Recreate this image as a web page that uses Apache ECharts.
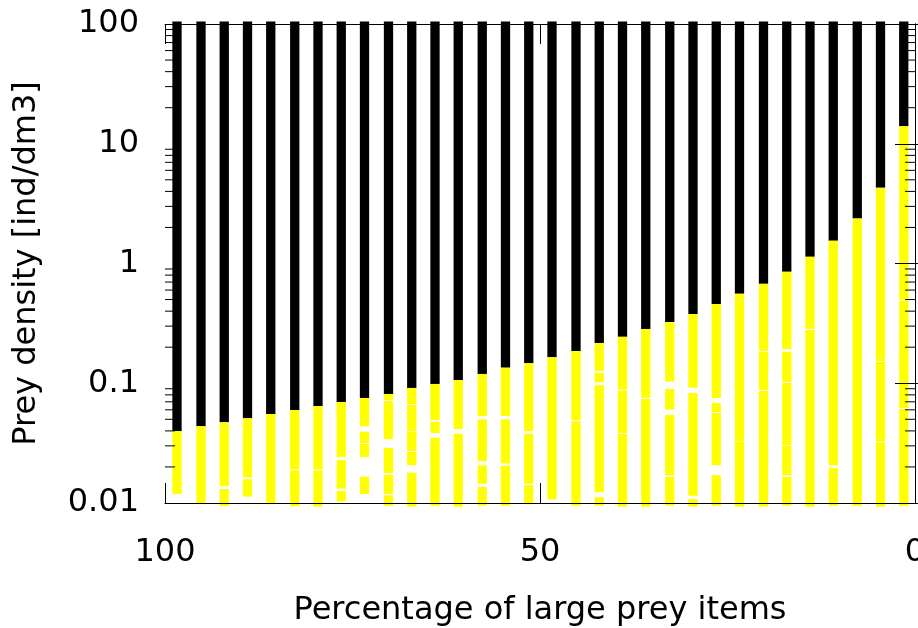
<!DOCTYPE html>
<html>
<head>
<meta charset="utf-8">
<script src="https://cdn.jsdelivr.net/npm/echarts@6/dist/echarts.min.js"></script>
<style>
  html, body { margin: 0; padding: 0; background: #fff; }
  #chart { width: 918px; height: 628px; }
</style>
</head>
<body>
<div id="chart"></div>
<script>
// ---- data ----
// x position (percentage of large prey items) of each bar
const xValues = [98.4, 95.2, 92.1, 89.0, 85.9, 82.7, 79.6, 76.5, 73.4, 70.2,
                 67.1, 64.0, 60.9, 57.7, 54.6, 51.5, 48.4, 45.2, 42.1, 39.0,
                 35.9, 32.7, 29.6, 26.5, 23.4, 20.2, 17.1, 14.0, 10.9, 7.7,
                 4.6, 1.5];
// prey density where the yellow part ends and the black part begins
const thresholds = [0.0399, 0.0437, 0.0472, 0.0510, 0.0554, 0.0598, 0.0646, 0.0698, 0.0754, 0.0814,
                    0.0914, 0.0987, 0.1064, 0.1196, 0.135, 0.147, 0.165, 0.186, 0.217, 0.244,
                    0.284, 0.324, 0.378, 0.460, 0.558, 0.676, 0.853, 1.137, 1.549, 2.38,
                    4.30, 14.0];
// lower end of each yellow bar
const yellowBottom = [0.0119, 0.0100, 0.0094, 0.0113, 0.0100, 0.0094, 0.0093, 0.0103, 0.0119, 0.0095,
                      0.0093, 0.0095, 0.0093, 0.0095, 0.0095, 0.0099, 0.0107, 0.0095, 0.0095, 0.0093,
                      0.0093, 0.0095, 0.0093, 0.0095, 0.0093, 0.0093, 0.0095, 0.0093, 0.0095, 0.0095,
                      0.0093, 0.0095];
// upper end of each black bar
const blackTop = [105, 105, 105, 105, 105, 105, 105, 105, 105, 105,
                  105, 105, 105, 105, 105, 105, 105, 105, 105, 105,
                  105, 105, 105, 105, 105, 105, 105, 105, 105, 105,
                  105, 105];
// white gaps inside the yellow bars: pairs [upper value, lower value]
const yellowGaps = [
  [], [], [[0.0139, 0.0131]], [[0.0164, 0.0158]], [], [[0.0191, 0.0187]], [[0.0191, 0.0187]],
  [[0.0242, 0.0228], [0.0132, 0.0126]],
  [[0.0437, 0.0394], [0.0317, 0.0311], [0.0242, 0.0166]],
  [[0.0725, 0.0711], [0.0342, 0.0288], [0.0178, 0.0172], [0.0119, 0.0116]],
  [[0.0671, 0.0658], [0.0397, 0.0392], [0.0272, 0.0267], [0.0207, 0.0179]],
  [[0.0493, 0.0477], [0.0384, 0.0351]],
  [[0.0415, 0.0379]],
  [[0.0533, 0.0500], [0.0223, 0.0206], [0.0145, 0.0136]],
  [[0.0533, 0.0500], [0.0214, 0.0205]],
  [[0.0399, 0.0379], [0.0145, 0.0141]],
  [],
  [[0.0491, 0.0481]],
  [[0.1267, 0.1220], [0.1019, 0.0964], [0.0123, 0.0112]],
  [[0.0884, 0.0866], [0.0383, 0.0377]],
  [[0.0756, 0.0739]],
  [[0.1031, 0.0896], [0.0602, 0.0543], [0.0170, 0.0165]],
  [[0.0919, 0.0830], [0.0115, 0.0108]],
  [[0.0754, 0.0684], [0.0575, 0.0565], [0.0207, 0.0171]],
  [[0.0327, 0.0323]],
  [[0.1863, 0.1827], [0.0879, 0.0862]],
  [[0.1925, 0.1827], [0.1025, 0.1006], [0.0305, 0.0301], [0.0170, 0.0165]],
  [[0.2844, 0.2790]],
  [[0.0207, 0.0196]],
  [],
  [[0.1537, 0.1507], [0.0327, 0.0321]],
  [[0.497, 0.488], [0.0622, 0.0610]]
];
// axis tick labels
const xTickLabels = ['0', '50', '100'];
const yTickLabels = ['0.01', '0.1', '1', '10', '100'];
const yMinorTicks = [0.02, 0.03, 0.04, 0.05, 0.06, 0.07, 0.08, 0.09,
                     0.2, 0.3, 0.4, 0.5, 0.6, 0.7, 0.8, 0.9,
                     2, 3, 4, 5, 6, 7, 8, 9,
                     20, 30, 40, 50, 60, 70, 80, 90];

// ---- chart ----
const FONT = 'DejaVu Sans';
const BAR_W = 9.3;
const chart = echarts.init(document.getElementById('chart'), null, { renderer: 'canvas' });

const barData = xValues.map((x, i) => [x, thresholds[i], yellowBottom[i], blackTop[i]]);

function renderBar(params, api) {
  const i = params.dataIndex;
  const x = api.value(0), thr = api.value(1), bot = api.value(2), top = api.value(3);
  const pThr = api.coord([x, thr]);
  const cx = pThr[0];
  const yTop = api.coord([x, top])[1];
  const yBot = api.coord([x, bot])[1];
  const children = [{
    type: 'rect',
    shape: { x: cx - BAR_W / 2, y: yTop, width: BAR_W, height: pThr[1] - yTop },
    style: { fill: '#000000' }
  }];
  let upper = pThr[1];
  const gaps = yellowGaps[i] || [];
  gaps.forEach(g => {
    const gTop = api.coord([x, g[0]])[1];
    const gBot = api.coord([x, g[1]])[1];
    if (gTop > upper) {
      children.push({ type: 'rect', shape: { x: cx - BAR_W / 2, y: upper, width: BAR_W, height: gTop - upper }, style: { fill: '#ffff00' } });
    }
    upper = gBot;
  });
  children.push({ type: 'rect', shape: { x: cx - BAR_W / 2, y: upper, width: BAR_W, height: yBot - upper }, style: { fill: '#ffff00' } });
  return { type: 'group', children };
}

function renderMinor(params, api) {
  const v = api.value(0);
  const l = api.coord([100, v]);
  const r = api.coord([0, v]);
  return {
    type: 'group',
    children: [
      { type: 'line', shape: { x1: l[0], y1: l[1], x2: l[0] + 10, y2: l[1] }, style: { stroke: '#000', lineWidth: 1 } },
      { type: 'line', shape: { x1: r[0], y1: r[1], x2: r[0] - 10, y2: r[1] }, style: { stroke: '#000', lineWidth: 1 } }
    ]
  };
}

function yLabel(v) {
  const k = Math.round(Math.log10(v)) + 2;
  return yTickLabels[k] !== undefined ? yTickLabels[k] : '';
}
function xLabel(v) {
  const idx = [0, 50, 100].indexOf(Math.round(v));
  return idx >= 0 ? xTickLabels[idx] : '';
}

const axisLine = { show: true, lineStyle: { color: '#000', width: 1 } };
const tickMajor = { show: true, inside: true, length: 20, lineStyle: { color: '#000', width: 1 } };

chart.setOption({
  animation: false,
  backgroundColor: '#ffffff',
  grid: { left: 165, right: 3, top: 24, bottom: 125, containLabel: false, outerBoundsMode: 'none' },
  xAxis: [{
    type: 'value', min: 0, max: 100, interval: 50, inverse: true, position: 'bottom', z: 10,
    axisLine, axisTick: tickMajor, splitLine: { show: false },
    axisLabel: { formatter: xLabel, color: '#000', fontFamily: FONT, fontSize: 32, margin: 34 },
    name: 'Percentage of large prey items', nameLocation: 'middle', nameGap: 92,
    nameTextStyle: { color: '#000', fontFamily: FONT, fontSize: 32 }
  }, {
    type: 'value', min: 0, max: 100, interval: 50, inverse: true, position: 'top', z: 10,
    axisLine, axisTick: tickMajor, splitLine: { show: false }, axisLabel: { show: false }
  }],
  yAxis: [{
    type: 'log', logBase: 10, min: 0.01, max: 100, position: 'left', z: 10,
    axisLine, axisTick: tickMajor, splitLine: { show: false }, minorTick: { show: false },
    axisLabel: { formatter: yLabel, color: '#000', fontFamily: FONT, fontSize: 32, margin: 26 },
    name: 'Prey density [ind/dm3]', nameLocation: 'middle', nameGap: 122, nameRotate: 90,
    nameTextStyle: { color: '#000', fontFamily: FONT, fontSize: 32 }
  }, {
    type: 'log', logBase: 10, min: 0.01, max: 100, position: 'right', z: 10,
    axisLine, axisTick: tickMajor, splitLine: { show: false }, axisLabel: { show: false }
  }],
  series: [{
    type: 'custom', renderItem: renderBar, data: barData, z: 2, clip: false,
    xAxisIndex: 0, yAxisIndex: 0, silent: true
  }, {
    type: 'custom', renderItem: renderMinor, data: yMinorTicks.map(v => [v]), z: 20, clip: false,
    xAxisIndex: 0, yAxisIndex: 0, silent: true, encode: { y: 0 }
  }]
});
</script>
</body>
</html>
